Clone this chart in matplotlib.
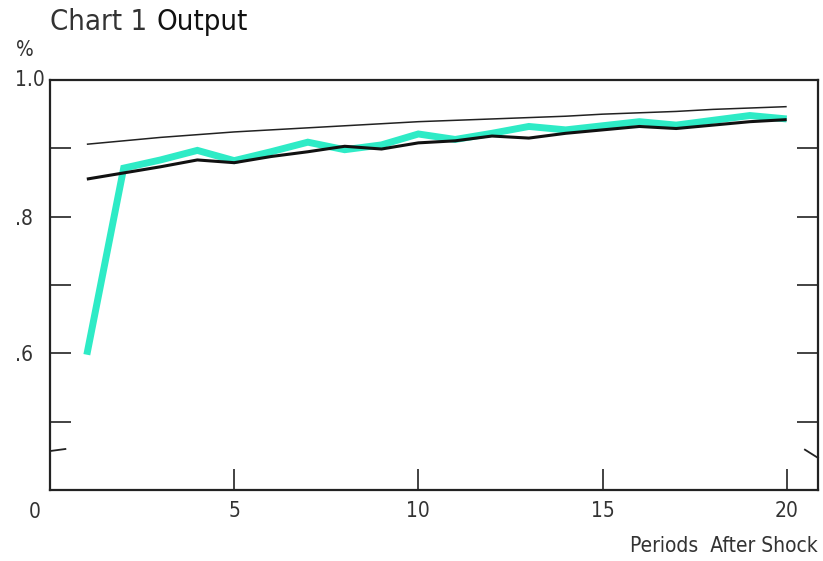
import matplotlib
matplotlib.use("Agg")
import matplotlib.pyplot as plt
from matplotlib import font_manager

periods = list(range(1, 21))
cyan_series = [0.598, 0.871, 0.883, 0.897, 0.882, 0.895, 0.909, 0.898, 0.905, 0.921,
               0.913, 0.922, 0.932, 0.927, 0.933, 0.939, 0.934, 0.941, 0.948, 0.943]
black_series = [0.855, 0.864, 0.873, 0.883, 0.879, 0.888, 0.895, 0.903, 0.899, 0.908,
                0.911, 0.918, 0.915, 0.922, 0.927, 0.932, 0.929, 0.934, 0.939, 0.942]
thin_series = [0.906, 0.911, 0.916, 0.920, 0.924, 0.927, 0.930, 0.933, 0.936, 0.939,
               0.941, 0.943, 0.945, 0.947, 0.950, 0.952, 0.954, 0.957, 0.959, 0.961]
x_ticks = [5, 10, 15, 20]
x_tick_labels = ["5", "10", "15", "20"]
y_ticks = [0.5, 0.6, 0.7, 0.8, 0.9]
y_tick_labels = ["", ".6", "", ".8", ""]

fonts = font_manager.fontManager.ttflist
def is_normal_weight(w):
    return w in (400, "normal", "regular", "book", "Book", "Regular")
cond = [f for f in fonts if f.name == "DejaVu Sans" and str(f.stretch) in ("condensed", "semi-condensed")
        and f.style == "normal" and is_normal_weight(f.weight)]
if cond:
    fprop = font_manager.FontProperties(fname=cond[0].fname)
else:
    fprop = font_manager.FontProperties(family="Liberation Sans")

def fp(size):
    p = fprop.copy()
    p.set_size(size)
    return p

fig = plt.figure(figsize=(8.23, 5.61), dpi=100)
L, R, B, T = 50 / 823, 818 / 823, 1 - 490 / 561, 1 - 80 / 561
ax = fig.add_axes([L, B, R - L, T - B])

ax.plot(periods, thin_series, color="#222222", lw=1.1, solid_capstyle="butt")
ax.plot(periods, cyan_series, color="#2EEBC6", lw=5.0, solid_capstyle="butt", solid_joinstyle="miter")
ax.plot(periods, black_series, color="#111111", lw=2.2, solid_capstyle="butt")

ax.set_xlim(0, 20.85)
ax.set_ylim(0.4, 1.0)
ax.set_xticks(x_ticks)
ax.set_xticklabels(x_tick_labels, fontproperties=fp(15))
ax.set_yticks(y_ticks)
ax.set_yticklabels(y_tick_labels, fontproperties=fp(15))
ax.tick_params(axis="both", direction="in", length=15, width=1.2, colors="#222222",
               labelcolor="#333333")
ax.tick_params(axis="y", right=True, pad=12)
ax.tick_params(axis="x", pad=8)
for s in ax.spines.values():
    s.set_linewidth(1.6)
    s.set_color("#222222")

# axis break marks
bk = 0.457
ax.plot([0, 0.02], [bk, bk + 0.003], transform=ax.get_yaxis_transform(), color="#222222",
        lw=1.3, clip_on=False)
ax.plot([1, 0.983], [bk - 0.01, bk + 0.002], transform=ax.get_yaxis_transform(), color="#222222",
        lw=1.3, clip_on=False)

fig.text(30 / 823, 1 - 80 / 561, "1.0", fontproperties=fp(15), color="#333333", ha="center", va="center")
fig.text(25 / 823, 1 - 50 / 561, "%", fontproperties=fp(15), color="#333333", ha="center", va="center")
fig.text(35 / 823, 1 - 512 / 561, "0", fontproperties=fp(15), color="#333333", ha="center", va="center")
fig.text(50 / 823, 1 - 22 / 561, "Chart 1", fontproperties=fp(21), color="#333333", ha="left", va="center")
fig.text(157 / 823, 1 - 22 / 561, "Output", fontproperties=fp(21), color="#111111", ha="left", va="center")
fig.text(818 / 823, 1 - 546 / 561, "Periods  After Shock", fontproperties=fp(15), color="#333333",
         ha="right", va="center")

fig.savefig("out.png", dpi=100)
